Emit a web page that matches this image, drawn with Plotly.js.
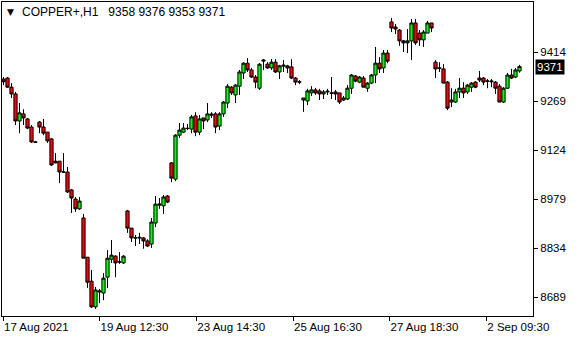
<!DOCTYPE html>
<html>
<head>
<meta charset="utf-8">
<script src="https://cdn.plot.ly/plotly-3.0.1.min.js"></script>
<style>
html,body{margin:0;padding:0;background:#fff;}
#chart{width:580px;height:340px;}
</style>
</head>
<body>
<div id="chart"></div>
<script>
const symbol = "COPPER+,H1";
const opens = [9334,9337,9310,9290,9210,9231,9216,9192,9148,9207,
9192,9177,9157,9091,9091,9059,9059,9006,8979,8950,
8923,8807,8736,8660,8704,8701,8748,8801,8810,8793,
8790,8944,8893,8864,8866,8864,8855,8846,8908,8961,
8959,8988,9086,9038,9168,9177,9188,9186,9225,9177,
9219,9213,9227,9231,9195,9231,9263,9310,9287,9313,
9352,9381,9361,9340,9307,9387,9378,9367,9384,9355,
9372,9373,9370,9337,9326,9272,9269,9293,9302,9299,
9290,9296,9293,9296,9293,9272,9275,9307,9343,9325,
9337,9307,9322,9346,9381,9367,9411,9503,9488,9479,
9447,9441,9447,9500,9470,9450,9470,9500,9384,9367,
9364,9325,9266,9266,9296,9307,9296,9310,9325,9337,
9337,9328,9326,9325,9313,9266,9307,9346,9340,9358];
const highs = [9340,9340,9322,9296,9263,9245,9219,9198,9151,9210,
9216,9177,9160,9115,9091,9115,9074,9009,8985,8985,
8935,8807,8769,8719,8713,8760,8828,8858,8813,8822,
8813,8947,8893,8873,8879,8867,8860,8923,8988,8982,
8991,8991,9088,9171,9204,9204,9201,9228,9236,9228,
9219,9263,9236,9236,9236,9269,9319,9313,9319,9361,
9384,9396,9367,9346,9381,9393,9384,9393,9393,9376,
9390,9376,9393,9340,9331,9278,9305,9313,9308,9305,
9302,9305,9340,9302,9293,9284,9316,9349,9346,9343,
9343,9325,9349,9429,9399,9420,9420,9515,9497,9482,
9450,9482,9512,9512,9479,9479,9506,9500,9390,9384,
9378,9328,9307,9305,9337,9325,9319,9325,9328,9358,
9340,9334,9334,9328,9319,9310,9352,9364,9367,9376];
const lows = [9316,9308,9278,9198,9174,9198,9186,9145,9145,9174,
9168,9145,9077,9085,9026,9056,8997,8938,8941,8947,
8804,8716,8657,8654,8671,8680,8716,8790,8748,8787,
8787,8879,8852,8840,8846,8832,8837,8834,8896,8950,
8935,8967,9029,9032,9160,9174,9183,9174,9165,9168,
9186,9207,9219,9174,9183,9222,9248,9287,9263,9287,
9334,9355,9337,9307,9302,9361,9364,9361,9352,9334,
9355,9352,9334,9316,9319,9237,9257,9284,9287,9272,
9275,9287,9275,9272,9260,9269,9272,9290,9325,9322,
9310,9296,9319,9322,9352,9352,9381,9473,9467,9432,
9414,9411,9390,9435,9432,9429,9470,9473,9337,9355,
9322,9242,9251,9263,9278,9278,9290,9296,9307,9325,
9316,9307,9310,9290,9266,9263,9305,9334,9337,9353];
const closes = [9326,9310,9290,9210,9234,9219,9189,9148,9147,9192,
9174,9151,9080,9086,9059,9059,9000,8982,8950,8973,
8804,8733,8660,8710,8707,8745,8804,8813,8790,8793,
8810,8893,8864,8864,8864,8855,8840,8911,8964,8964,
8985,8970,9041,9168,9183,9189,9188,9222,9177,9216,
9210,9231,9230,9192,9231,9266,9313,9293,9316,9355,
9381,9361,9340,9325,9378,9390,9367,9384,9355,9373,
9375,9367,9337,9325,9325,9278,9299,9302,9293,9290,
9296,9298,9292,9290,9266,9278,9307,9346,9328,9340,
9310,9322,9346,9381,9364,9411,9387,9485,9482,9447,
9441,9447,9500,9441,9450,9473,9500,9485,9364,9366,
9322,9248,9272,9296,9307,9293,9316,9322,9310,9331,
9325,9328,9328,9307,9266,9307,9346,9337,9361,9371];
const tickLabels = ["17 Aug 2021","19 Aug 12:30","23 Aug 14:30","25 Aug 16:30","27 Aug 18:30","2 Sep 09:30"];
const tickBars = [-0.12, 24.0, 48.2, 72.4, 96.5, 120.7];
const priceTicks = [8689, 8834, 8979, 9124, 9269, 9414];

const bars = opens.map((_, i) => i);
const n = closes.length;
const FONT = "Liberation Sans, Arial, sans-serif";
const NB = "\u00a0";

const trace = {
  type: "candlestick",
  x: bars, open: opens, high: highs, low: lows, close: closes,
  increasing: {fillcolor: "#00ff00", line: {color: "#000000", width: 1}},
  decreasing: {fillcolor: "#ff0000", line: {color: "#000000", width: 1}},
  whiskerwidth: 0,
  hoverinfo: "skip",
  showlegend: false
};

const layout = {
  width: 580, height: 340,
  margin: {l: 2, r: 47, t: 2, b: 24, pad: 0},
  paper_bgcolor: "#ffffff", plot_bgcolor: "#ffffff",
  boxgap: 0.2,
  boxgroupgap: 0,
  font: {family: FONT, size: 11, color: "#000000"},
  showlegend: false,
  xaxis: {
    type: "linear",
    range: [-0.375, 132.375],
    rangeslider: {visible: false},
    showgrid: false, zeroline: false,
    showline: true, mirror: true, linecolor: "#000000", linewidth: 1,
    ticks: "outside", ticklen: 4, tickcolor: "#000000", tickwidth: 1,
    tickmode: "array", tickvals: tickBars, ticktext: tickLabels,
    ticklabelposition: "outside right",
    tickfont: {family: FONT, size: 11.5, color: "#000000"},
    fixedrange: true
  },
  yaxis: {
    side: "right",
    range: [8633, 9562],
    showgrid: false, zeroline: false,
    showline: true, mirror: true, linecolor: "#000000", linewidth: 1,
    ticks: "outside", ticklen: 4, tickcolor: "#000000", tickwidth: 1,
    tickmode: "array", tickvals: priceTicks, ticktext: priceTicks.map(String),
    tickfont: {family: FONT, size: 11.5, color: "#000000"},
    fixedrange: true
  },
  annotations: [
    {xref: "paper", yref: "paper", x: 0.006, y: 0.968, xanchor: "left", yanchor: "middle",
     text: "▼", showarrow: false, font: {family: "DejaVu Sans", size: 9, color: "#000000"}},
    {xref: "paper", yref: "paper", x: 0.034, y: 0.968, xanchor: "left", yanchor: "middle",
     text: symbol + NB + NB + NB + [opens[n-1], highs[n-1], lows[n-1], closes[n-1]].join(NB),
     showarrow: false, font: {family: FONT, size: 12, color: "#000000"}},
    {xref: "paper", yref: "y", x: 1, y: closes[n-1], xanchor: "left", yanchor: "middle", xshift: 2,
     text: String(closes[n-1]), showarrow: false, bgcolor: "#000000", borderpad: 1,
     font: {family: FONT, size: 11.5, color: "#ffffff"}}
  ]
};

Plotly.newPlot("chart", [trace], layout, {staticPlot: true, displayModeBar: false});
</script>
</body>
</html>
